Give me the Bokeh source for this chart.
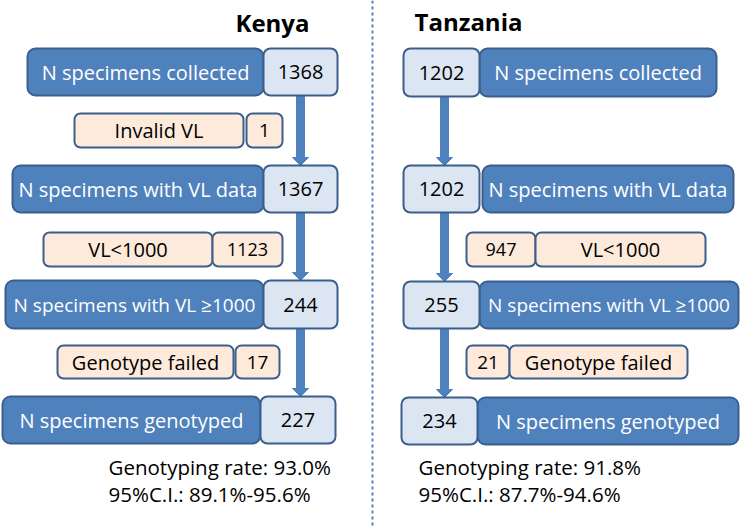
from bokeh.plotting import figure
from bokeh.models import Range1d
from bokeh.embed import file_html
from bokeh.resources import INLINE
from bokeh.core.properties import value

# ---------------- data ----------------
countries = ["Kenya", "Tanzania"]
stage_labels = ["N specimens collected", "N specimens with VL data",
                "N specimens with VL \u22651000", "N specimens genotyped"]
kenya_counts = [1368, 1367, 244, 227]
tanzania_counts = [1202, 1202, 255, 234]
excl_labels = ["Invalid VL", "VL<1000", "Genotype failed"]
kenya_excl = [1, 1123, 17]
tanzania_excl = [None, 947, 21]
rate_lines = {
    "Kenya": ["Genotyping rate: 93.0%", "95%C.I.: 89.1%-95.6%"],
    "Tanzania": ["Genotyping rate: 91.8%", "95%C.I.: 87.7%-94.6%"],
}

# ---------------- layout (pixel coords) ----------------
FONT = value("Open Sans")
DARK = "#4F81BD"
LIGHT = "#DCE6F2"
PEACH = "#FDEADA"
EDGE = "#3B5F8C"

row_y = [(48, 95), (165, 212), (280, 328), (396, 443)]
t_row_y = [(48, 96), (165, 212), (281, 328), (397, 444)]
k_dark_x = [(27, 263), (12, 263), (5, 263), (2, 260)]
k_light_x = [(263, 337), (263, 337), (263, 337), (260, 335)]
t_light_x = [(403, 479), (403, 479), (403, 479), (401, 477)]
t_dark_x = [(479, 716), (482, 733), (479, 738), (477, 738)]
ex_y = [(113, 147), (232, 266), (345, 378)]
k_ex_lab_x = [(74, 243), (43, 212), (57, 233)]
k_ex_num_x = [(246, 282), (212, 282), (235, 279)]
t_ex_num_x = [None, (466, 535), (466, 509)]
t_ex_lab_x = [None, (535, 705), (509, 687)]
k_arrow_x, t_arrow_x = 300, 444
stage_sizes = ["20px", "20px", "19px", "20px"]
ex_num_sizes_k = ["19px", "18px", "19px"]
ex_num_sizes_t = [None, "18px", "19px"]

W, H = 740, 526
p = figure(width=W, height=H, output_backend="svg", toolbar_location=None,
           x_range=Range1d(0, W), y_range=Range1d(H, 0), min_border=0)
p.axis.visible = False
p.grid.visible = False
p.outline_line_color = None
p.background_fill_color = "white"

def box(x, y, fill, r):
    p.quad(left=[x[0]], right=[x[1]], top=[y[0]], bottom=[y[1]],
           fill_color=fill, line_color=EDGE, line_width=2, border_radius=r)

def label(x, y, txt, color, size, align="center", bold=False):
    p.text(x=[x], y=[y], text=[txt], text_color=color, text_font=FONT,
           text_font_size=size, text_align=align, text_baseline="middle",
           text_font_style="bold" if bold else "normal")

def arrow(x, y0, y1):
    head = 8
    p.segment(x0=[x], y0=[y0], x1=[x], y1=[y1 - head], line_color=DARK, line_width=9)
    p.patch(x=[x - 8, x + 8, x], y=[y1 - head, y1 - head, y1], fill_color=DARK,
            line_color=DARK, line_width=1)

# divider
p.segment(x0=[372], y0=[0], x1=[372], y1=[H], line_color=DARK, line_width=2,
          line_dash="3 3")

# arrows
for i in range(3):
    arrow(k_arrow_x, row_y[i][1], row_y[i + 1][0])
    arrow(t_arrow_x, t_row_y[i][1], t_row_y[i + 1][0])

# titles
label(272, 22, countries[0], "black", "24px", bold=True)
label(414, 21, countries[1], "black", "24px", align="left", bold=True)

# Kenya rows
for i, (lab, n) in enumerate(zip(stage_labels, kenya_counts)):
    box(k_dark_x[i], row_y[i], DARK, 8)
    box(k_light_x[i], row_y[i], LIGHT, 7)
    ym = (row_y[i][0] + row_y[i][1]) / 2
    label((k_dark_x[i][0] + k_dark_x[i][1]) / 2, ym, lab, "white", stage_sizes[i])
    label((k_light_x[i][0] + k_light_x[i][1]) / 2, ym, str(n), "black", "20px")

# Tanzania rows
for i, (lab, n) in enumerate(zip(stage_labels, tanzania_counts)):
    box(t_dark_x[i], t_row_y[i], DARK, 8)
    box(t_light_x[i], t_row_y[i], LIGHT, 7)
    ym = (t_row_y[i][0] + t_row_y[i][1]) / 2
    label((t_dark_x[i][0] + t_dark_x[i][1]) / 2, ym, lab, "white", stage_sizes[i])
    label((t_light_x[i][0] + t_light_x[i][1]) / 2, ym, str(n), "black", "20px")

# exclusions
for i, lab in enumerate(excl_labels):
    ym = (ex_y[i][0] + ex_y[i][1]) / 2
    box(k_ex_lab_x[i], ex_y[i], PEACH, 6)
    box(k_ex_num_x[i], ex_y[i], PEACH, 6)
    label((k_ex_lab_x[i][0] + k_ex_lab_x[i][1]) / 2, ym, lab, "black", "20px")
    label((k_ex_num_x[i][0] + k_ex_num_x[i][1]) / 2, ym, str(kenya_excl[i]), "black",
          ex_num_sizes_k[i])
    if tanzania_excl[i] is not None:
        box(t_ex_num_x[i], ex_y[i], PEACH, 6)
        box(t_ex_lab_x[i], ex_y[i], PEACH, 6)
        label((t_ex_num_x[i][0] + t_ex_num_x[i][1]) / 2, ym, str(tanzania_excl[i]), "black",
              ex_num_sizes_t[i])
        label((t_ex_lab_x[i][0] + t_ex_lab_x[i][1]) / 2, ym, lab, "black", "20px")

# rate texts
for j, txt in enumerate(rate_lines["Kenya"]):
    label(108, 466 + 27 * j, txt, "black", "20.5px", align="left")
for j, txt in enumerate(rate_lines["Tanzania"]):
    label(418, 466 + 27 * j, txt, "black", "20.5px", align="left")

open("out.html", "w").write(file_html(p, INLINE))
